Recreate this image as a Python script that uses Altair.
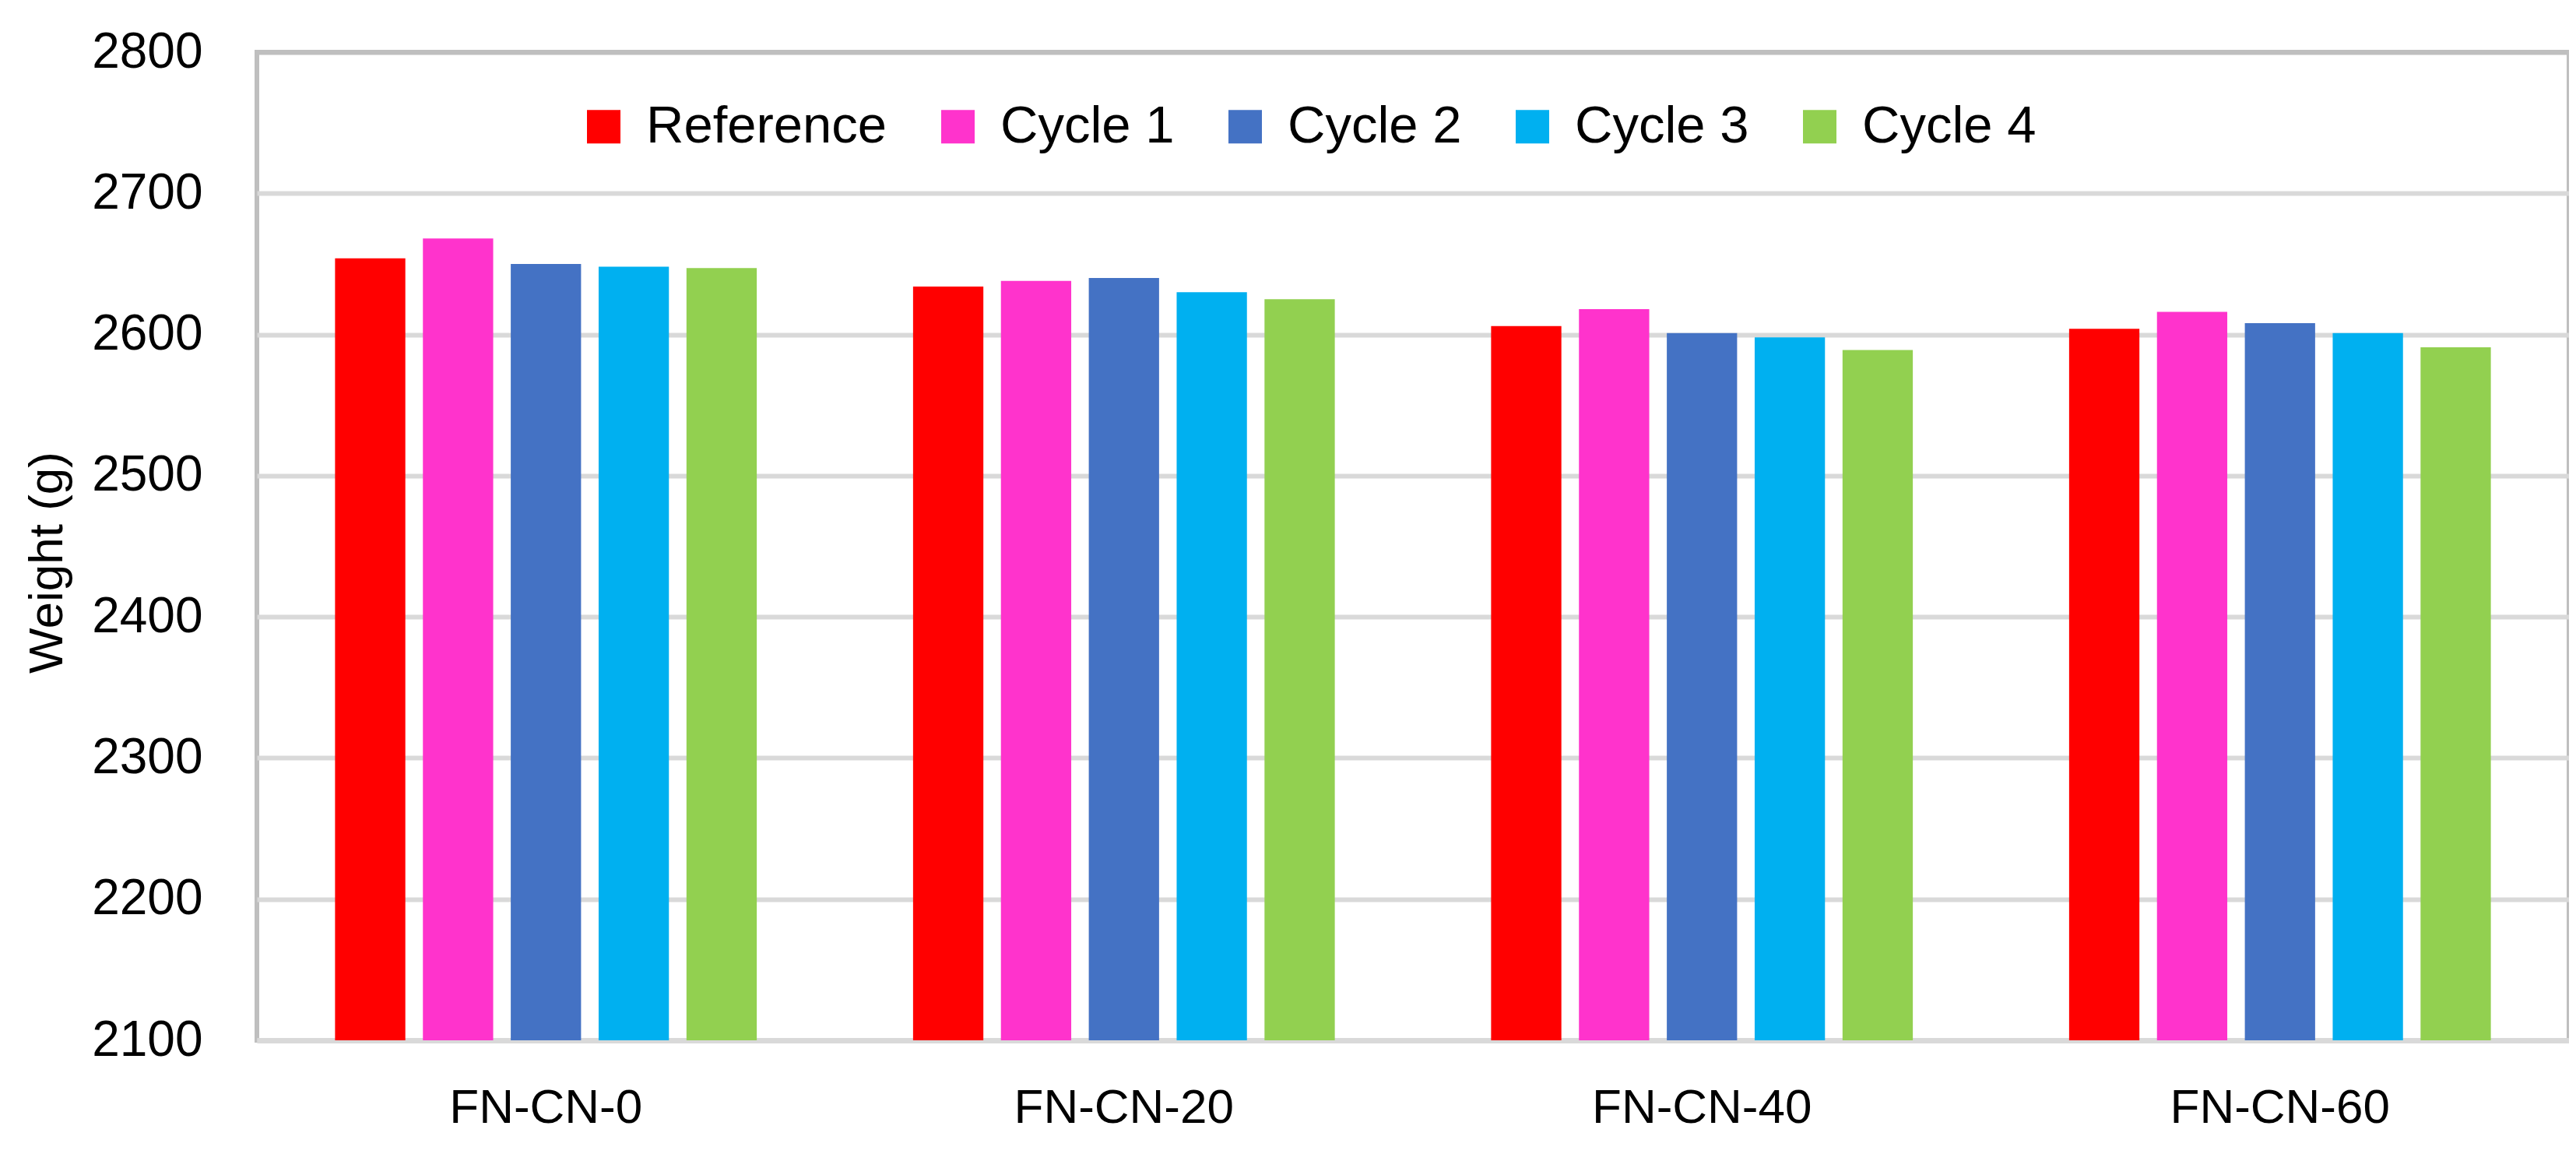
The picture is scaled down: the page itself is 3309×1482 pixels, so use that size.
import altair as alt
import pandas as pd

groups = ["FN-CN-0", "FN-CN-20", "FN-CN-40", "FN-CN-60"]
series = ["Reference", "Cycle 1", "Cycle 2", "Cycle 3", "Cycle 4"]
reference = [2654, 2634, 2606, 2604]
cycle1 = [2668, 2638, 2618, 2616]
cycle2 = [2650, 2640, 2601, 2608]
cycle3 = [2648, 2630, 2598, 2601]
cycle4 = [2647, 2625, 2589, 2591]
colors = ["#FF0000", "#FF33CC", "#4472C4", "#00B0F0", "#92D050"]
y_ticks = [2100, 2200, 2300, 2400, 2500, 2600, 2700, 2800]

values = [reference, cycle1, cycle2, cycle3, cycle4]
rows = []
for s, vals in zip(series, values):
    for g, v in zip(groups, vals):
        rows.append({"group": g, "series": s, "weight": v})
df = pd.DataFrame(rows)

FONT = "'Liberation Sans', Arial, sans-serif"

chart = alt.Chart(df).mark_bar().encode(
    x=alt.X("group:N", sort=groups,
            scale=alt.Scale(paddingInner=0.24, paddingOuter=0.12),
            axis=alt.Axis(title=None, labelAngle=0, ticks=False, grid=False,
                          domainColor="#d9d9d9", domainWidth=7,
                          labelFontSize=62, labelColor="#000000", labelPadding=56,
                          labelLimit=2000)),
    xOffset=alt.XOffset("series:N", sort=series,
                        scale=alt.Scale(paddingInner=0.2, paddingOuter=0.1)),
    y=alt.Y("weight:Q",
            scale=alt.Scale(domain=[2100, 2800], zero=False, nice=False),
            axis=alt.Axis(title="Weight (g)", values=y_ticks, format="d",
                          ticks=False, domain=False,
                          grid=True, gridWidth=6,
                          gridColor={"condition": {"test": "datum.value === 2800", "value": "#bfbfbf"}, "value": "#d9d9d9"},
                          labelFontSize=64, labelColor="#000000", labelPadding=70,
                          labelLimit=2000,
                          titleFontSize=62, titleFontWeight="normal", titleColor="#000000",
                          titleX=-270, titleY=655, titleBaseline="middle")),
    y2=alt.datum(2100),
    color=alt.Color("series:N", sort=series,
                    scale=alt.Scale(domain=series, range=colors),
                    legend=alt.Legend(title=None, orient="none", legendX=412, legendY=62,
                                      direction="horizontal", symbolType="square",
                                      symbolSize=1849, symbolStrokeWidth=0, symbolOpacity=1,
                                      labelOffset=21, columnPadding=57, labelFontSize=67,
                                      labelColor="#000000", labelLimit=1000, padding=0)),
).properties(
    width=2970, height=1269,
    padding={"left": 322, "top": 59, "right": 0, "bottom": 130},
    autosize="none",
).configure(
    font=FONT,
).configure_view(
    stroke="#bfbfbf", strokeWidth=6,
)

chart.save("out.html", embed_options={"renderer": "svg", "actions": False})
